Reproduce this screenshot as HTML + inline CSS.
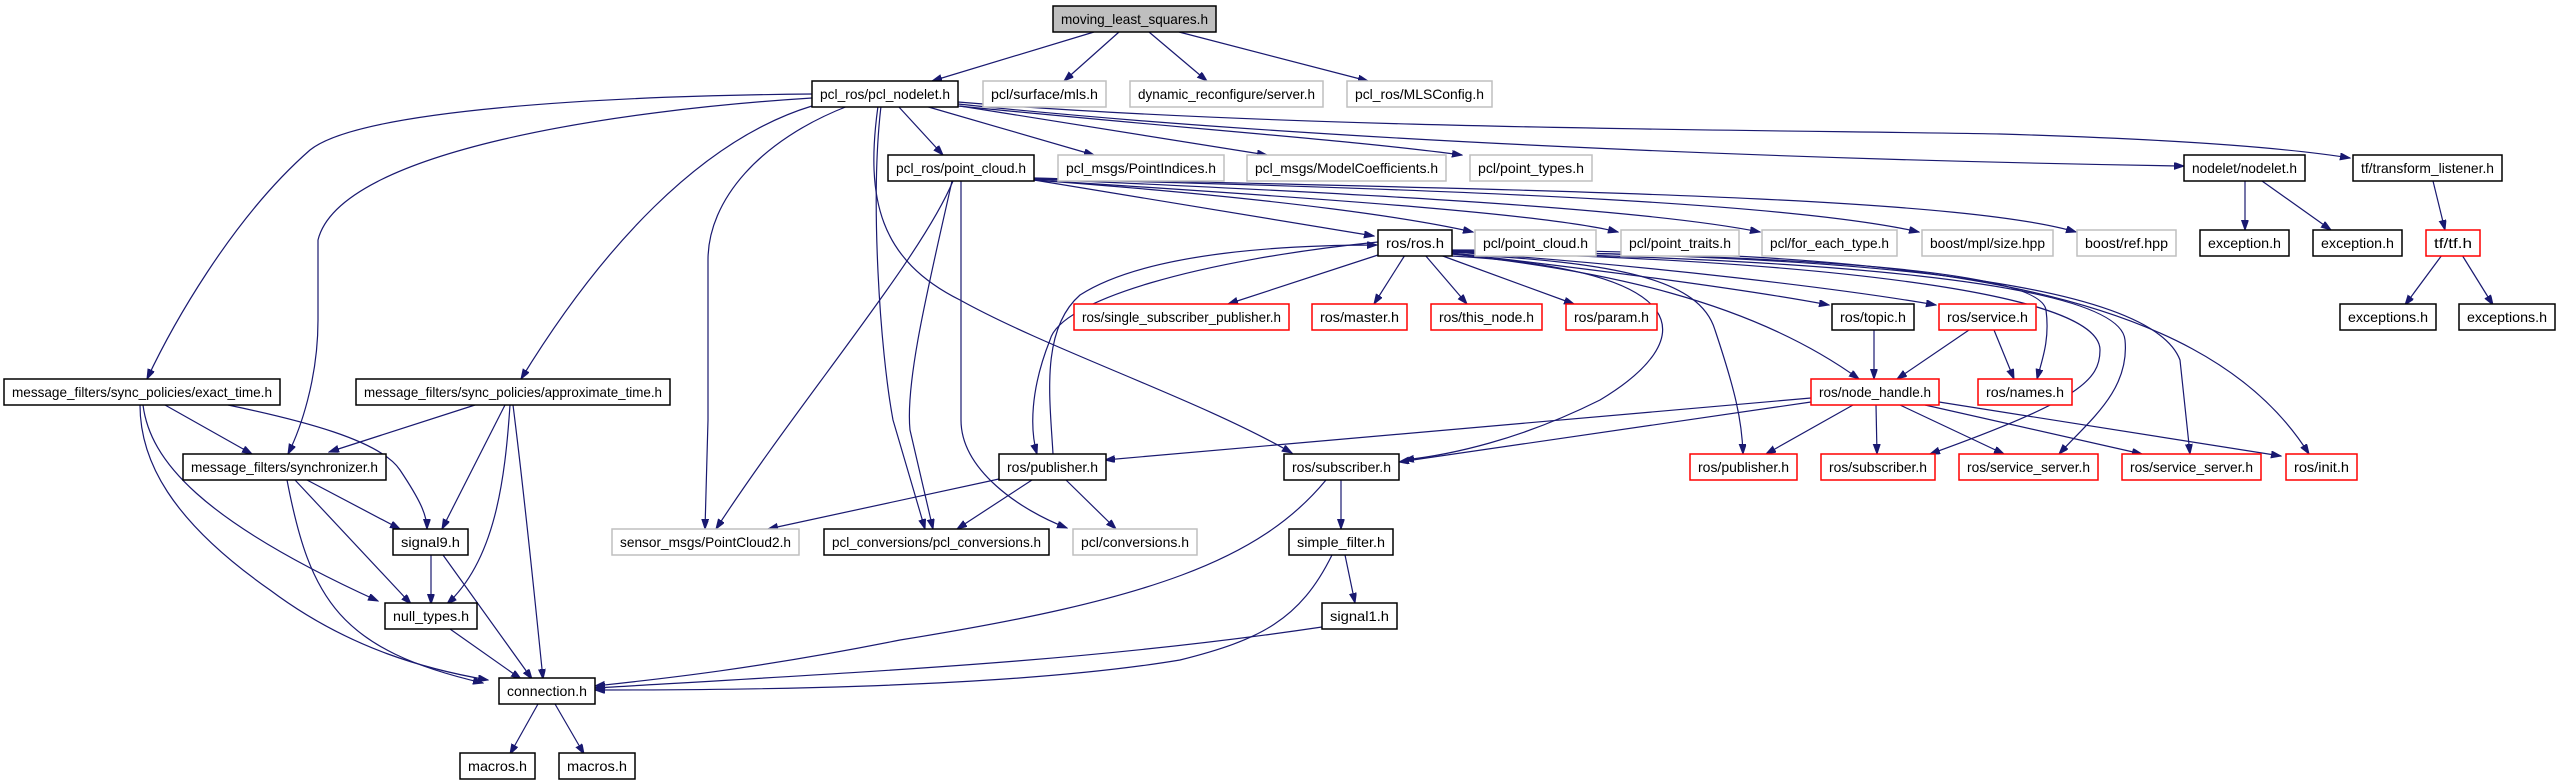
<!DOCTYPE html>
<html><head><meta charset="utf-8"><style>
html,body{margin:0;padding:0;background:#fff;}
svg{display:block;}
text{font-family:"Liberation Sans",sans-serif;font-size:14px;fill:#000;}
.b{fill:#fff;stroke:#000;stroke-width:1.5;}
.g{fill:#fff;stroke:#bfbfbf;stroke-width:1.5;}
.r{fill:#fff;stroke:#ff0000;stroke-width:1.5;}
.t{fill:#bfbfbf;stroke:#000;stroke-width:1.5;}
path.e{fill:none;stroke:#191970;stroke-width:1.2;marker-end:url(#a);}
</style></head><body>
<svg width="2565" height="784" viewBox="0 0 2565 784" xmlns="http://www.w3.org/2000/svg">
<defs><marker id="a" markerUnits="userSpaceOnUse" markerWidth="11" markerHeight="8" refX="10" refY="3.5" orient="auto"><path d="M0,0 L10,3.5 L0,7 z" fill="#191970" stroke="#191970"/></marker></defs>
<g>
<path class="e" d="M1094,32 L932,81"/>
<path class="e" d="M1119,32 L1064,81"/>
<path class="e" d="M1149,32 L1207,81"/>
<path class="e" d="M1179,32 L1368,81"/>
<path class="e" d="M812,94 C600,96 360,110 310,150 C230,220 170,330 147,379"/>
<path class="e" d="M812,98 C620,110 340,150 318,240 L318,320 C318,380 300,430 288,454"/>
<path class="e" d="M812,106 C700,140 600,250 521,379"/>
<path class="e" d="M848,106 C760,140 708,200 708,260 L708,420 L705,529"/>
<path class="e" d="M881,106 C870,200 880,350 893,420 L925,529"/>
<path class="e" d="M878,106 C865,200 880,260 960,300 C1050,350 1200,400 1292,453"/>
<path class="e" d="M898,106 L943,155"/>
<path class="e" d="M925,106 L1094,155"/>
<path class="e" d="M960,106 L1267,155"/>
<path class="e" d="M958,106 C1200,130 1350,140 1462,155"/>
<path class="e" d="M958,104 C1300,140 1800,160 2184,166"/>
<path class="e" d="M958,102 C1300,130 1800,130 2000,134 C2200,140 2300,150 2350,158"/>
<path class="e" d="M953,181 C920,260 800,400 716,529"/>
<path class="e" d="M952,181 C930,280 905,380 910,430 L933,529"/>
<path class="e" d="M961,181 L961,420 C961,470 1020,510 1067,528"/>
<path class="e" d="M1034,180 L1374,236"/>
<path class="e" d="M1034,180 C1300,200 1420,220 1473,232"/>
<path class="e" d="M1034,180 C1350,200 1550,215 1618,232"/>
<path class="e" d="M1034,179 C1400,195 1650,210 1760,232"/>
<path class="e" d="M1034,179 C1500,190 1800,205 1919,232"/>
<path class="e" d="M1034,178 C1500,190 1950,195 2076,232"/>
<path class="e" d="M1378,255 L1228,304"/>
<path class="e" d="M1405,255 L1374,304"/>
<path class="e" d="M1425,255 L1467,304"/>
<path class="e" d="M1440,255 L1574,304"/>
<path class="e" d="M1452,253 C1600,270 1750,290 1829,305"/>
<path class="e" d="M1452,252 C1650,265 1850,290 1936,305"/>
<path class="e" d="M1452,254 C1600,270 1750,300 1859,379"/>
<path class="e" d="M1452,251 C1800,255 2040,270 2046,310 C2050,340 2042,360 2037,379"/>
<path class="e" d="M1452,254 C1620,262 1700,280 1715,330 C1735,390 1742,420 1743,454"/>
<path class="e" d="M1452,252 C1800,260 2100,290 2100,350 C2100,380 2080,400 1930,454"/>
<path class="e" d="M1452,252 C1800,258 2120,280 2125,340 C2130,390 2090,420 2059,454"/>
<path class="e" d="M1452,251 C1850,255 2150,280 2180,360 L2190,454"/>
<path class="e" d="M1452,250 C1900,250 2200,280 2309,454"/>
<path class="e" d="M1378,242 C1200,260 1060,300 1050,340 C1030,390 1030,430 1037,454"/>
<path class="e" d="M1053,454 C1050,400 1040,330 1080,295 C1150,250 1300,245 1377,245"/>
<path class="e" d="M1452,256 C1700,270 1700,340 1600,400 C1520,440 1450,455 1404,460"/>
<path class="e" d="M1811,398 L1105,460"/>
<path class="e" d="M1811,402 L1399,462"/>
<path class="e" d="M1853,405 L1766,454"/>
<path class="e" d="M1876,405 L1877,454"/>
<path class="e" d="M1900,405 L2004,454"/>
<path class="e" d="M1925,405 L2142,454"/>
<path class="e" d="M1939,402 L2281,456"/>
<path class="e" d="M1874,330 L1874,379"/>
<path class="e" d="M1969,330 L1897,379"/>
<path class="e" d="M1994,330 L2014,379"/>
<path class="e" d="M2245,181 L2245,230"/>
<path class="e" d="M2262,181 L2331,230"/>
<path class="e" d="M2433,181 L2445,230"/>
<path class="e" d="M2442,255 L2405,305"/>
<path class="e" d="M2462,255 L2493,305"/>
<path class="e" d="M999,479 L768,529"/>
<path class="e" d="M1032,480 L957,529"/>
<path class="e" d="M1066,480 L1116,529"/>
<path class="e" d="M1326,480 C1260,560 1150,600 900,640 C750,670 650,680 595,686"/>
<path class="e" d="M1341,480 L1341,529"/>
<path class="e" d="M1345,555 L1355,603"/>
<path class="e" d="M1332,555 C1300,620 1260,640 1180,660 C1000,690 700,690 595,690"/>
<path class="e" d="M1322,627 C1100,660 900,670 595,688"/>
<path class="e" d="M165,405 L252,454"/>
<path class="e" d="M228,405 C300,420 380,440 400,470 C420,500 427,515 427,529"/>
<path class="e" d="M143,405 C150,460 200,520 378,601"/>
<path class="e" d="M140,405 C140,460 170,520 270,590 C350,650 430,670 488,680"/>
<path class="e" d="M475,405 L329,452"/>
<path class="e" d="M505,405 L442,529"/>
<path class="e" d="M510,405 C505,480 495,560 447,604"/>
<path class="e" d="M513,405 C525,500 535,600 543,679"/>
<path class="e" d="M307,480 L400,529"/>
<path class="e" d="M295,480 L411,604"/>
<path class="e" d="M287,480 C310,600 340,650 483,683"/>
<path class="e" d="M431,555 L431,604"/>
<path class="e" d="M443,555 L532,679"/>
<path class="e" d="M450,629 L521,679"/>
<path class="e" d="M538,704 L510,754"/>
<path class="e" d="M555,704 L584,754"/>
</g>
<g>
<rect class="t" x="1053" y="6" width="163" height="26"/><text x="1134.5" y="24" text-anchor="middle" textLength="147" lengthAdjust="spacingAndGlyphs">moving_least_squares.h</text>

<rect class="b" x="812" y="81" width="146" height="26"/><text x="885" y="99" text-anchor="middle" textLength="130" lengthAdjust="spacingAndGlyphs">pcl_ros/pcl_nodelet.h</text>
<rect class="g" x="983" y="81" width="123" height="26"/><text x="1044.5" y="99" text-anchor="middle" textLength="107" lengthAdjust="spacingAndGlyphs">pcl/surface/mls.h</text>
<rect class="g" x="1130" y="81" width="193" height="26"/><text x="1226.5" y="99" text-anchor="middle" textLength="177" lengthAdjust="spacingAndGlyphs">dynamic_reconfigure/server.h</text>
<rect class="g" x="1347" y="81" width="145" height="26"/><text x="1419.5" y="99" text-anchor="middle" textLength="129" lengthAdjust="spacingAndGlyphs">pcl_ros/MLSConfig.h</text>

<rect class="b" x="888" y="155" width="146" height="26"/><text x="961" y="173" text-anchor="middle" textLength="130" lengthAdjust="spacingAndGlyphs">pcl_ros/point_cloud.h</text>
<rect class="g" x="1058" y="155" width="166" height="26"/><text x="1141" y="173" text-anchor="middle" textLength="150" lengthAdjust="spacingAndGlyphs">pcl_msgs/PointIndices.h</text>
<rect class="g" x="1247" y="155" width="199" height="26"/><text x="1346.5" y="173" text-anchor="middle" textLength="183" lengthAdjust="spacingAndGlyphs">pcl_msgs/ModelCoefficients.h</text>
<rect class="g" x="1470" y="155" width="122" height="26"/><text x="1531" y="173" text-anchor="middle" textLength="106" lengthAdjust="spacingAndGlyphs">pcl/point_types.h</text>
<rect class="b" x="2184" y="155" width="121" height="26"/><text x="2244.5" y="173" text-anchor="middle" textLength="105" lengthAdjust="spacingAndGlyphs">nodelet/nodelet.h</text>
<rect class="b" x="2353" y="155" width="149" height="26"/><text x="2427.5" y="173" text-anchor="middle" textLength="133" lengthAdjust="spacingAndGlyphs">tf/transform_listener.h</text>

<rect class="b" x="1378" y="230" width="74" height="26"/><text x="1415" y="248" text-anchor="middle" textLength="58" lengthAdjust="spacingAndGlyphs">ros/ros.h</text>
<rect class="g" x="1475" y="230" width="121" height="26"/><text x="1535.5" y="248" text-anchor="middle" textLength="105" lengthAdjust="spacingAndGlyphs">pcl/point_cloud.h</text>
<rect class="g" x="1621" y="230" width="118" height="26"/><text x="1680" y="248" text-anchor="middle" textLength="102" lengthAdjust="spacingAndGlyphs">pcl/point_traits.h</text>
<rect class="g" x="1762" y="230" width="135" height="26"/><text x="1829.5" y="248" text-anchor="middle" textLength="119" lengthAdjust="spacingAndGlyphs">pcl/for_each_type.h</text>
<rect class="g" x="1922" y="230" width="131" height="26"/><text x="1987.5" y="248" text-anchor="middle" textLength="115" lengthAdjust="spacingAndGlyphs">boost/mpl/size.hpp</text>
<rect class="g" x="2077" y="230" width="99" height="26"/><text x="2126.5" y="248" text-anchor="middle" textLength="83" lengthAdjust="spacingAndGlyphs">boost/ref.hpp</text>
<rect class="b" x="2200" y="230" width="89" height="26"/><text x="2244.5" y="248" text-anchor="middle" textLength="73" lengthAdjust="spacingAndGlyphs">exception.h</text>
<rect class="b" x="2313" y="230" width="89" height="26"/><text x="2357.5" y="248" text-anchor="middle" textLength="73" lengthAdjust="spacingAndGlyphs">exception.h</text>
<rect class="r" x="2426" y="230" width="54" height="26"/><text x="2453" y="248" text-anchor="middle" textLength="38" lengthAdjust="spacingAndGlyphs">tf/tf.h</text>

<rect class="r" x="1074" y="304" width="215" height="26"/><text x="1181.5" y="322" text-anchor="middle" textLength="199" lengthAdjust="spacingAndGlyphs">ros/single_subscriber_publisher.h</text>
<rect class="r" x="1312" y="304" width="95" height="26"/><text x="1359.5" y="322" text-anchor="middle" textLength="79" lengthAdjust="spacingAndGlyphs">ros/master.h</text>
<rect class="r" x="1431" y="304" width="111" height="26"/><text x="1486.5" y="322" text-anchor="middle" textLength="95" lengthAdjust="spacingAndGlyphs">ros/this_node.h</text>
<rect class="r" x="1566" y="304" width="91" height="26"/><text x="1611.5" y="322" text-anchor="middle" textLength="75" lengthAdjust="spacingAndGlyphs">ros/param.h</text>
<rect class="b" x="1832" y="304" width="82" height="26"/><text x="1873" y="322" text-anchor="middle" textLength="66" lengthAdjust="spacingAndGlyphs">ros/topic.h</text>
<rect class="r" x="1939" y="304" width="97" height="26"/><text x="1987.5" y="322" text-anchor="middle" textLength="81" lengthAdjust="spacingAndGlyphs">ros/service.h</text>
<rect class="b" x="2340" y="304" width="96" height="26"/><text x="2388" y="322" text-anchor="middle" textLength="80" lengthAdjust="spacingAndGlyphs">exceptions.h</text>
<rect class="b" x="2459" y="304" width="96" height="26"/><text x="2507" y="322" text-anchor="middle" textLength="80" lengthAdjust="spacingAndGlyphs">exceptions.h</text>

<rect class="b" x="4" y="379" width="276" height="26"/><text x="142" y="397" text-anchor="middle" textLength="260" lengthAdjust="spacingAndGlyphs">message_filters/sync_policies/exact_time.h</text>
<rect class="b" x="356" y="379" width="314" height="26"/><text x="513" y="397" text-anchor="middle" textLength="298" lengthAdjust="spacingAndGlyphs">message_filters/sync_policies/approximate_time.h</text>
<rect class="r" x="1811" y="379" width="128" height="26"/><text x="1875" y="397" text-anchor="middle" textLength="112" lengthAdjust="spacingAndGlyphs">ros/node_handle.h</text>
<rect class="r" x="1978" y="379" width="94" height="26"/><text x="2025" y="397" text-anchor="middle" textLength="78" lengthAdjust="spacingAndGlyphs">ros/names.h</text>

<rect class="b" x="183" y="454" width="203" height="26"/><text x="284.5" y="472" text-anchor="middle" textLength="187" lengthAdjust="spacingAndGlyphs">message_filters/synchronizer.h</text>
<rect class="b" x="999" y="454" width="107" height="26"/><text x="1052.5" y="472" text-anchor="middle" textLength="91" lengthAdjust="spacingAndGlyphs">ros/publisher.h</text>
<rect class="b" x="1284" y="454" width="115" height="26"/><text x="1341.5" y="472" text-anchor="middle" textLength="99" lengthAdjust="spacingAndGlyphs">ros/subscriber.h</text>
<rect class="r" x="1690" y="454" width="107" height="26"/><text x="1743.5" y="472" text-anchor="middle" textLength="91" lengthAdjust="spacingAndGlyphs">ros/publisher.h</text>
<rect class="r" x="1821" y="454" width="114" height="26"/><text x="1878" y="472" text-anchor="middle" textLength="98" lengthAdjust="spacingAndGlyphs">ros/subscriber.h</text>
<rect class="r" x="1959" y="454" width="139" height="26"/><text x="2028.5" y="472" text-anchor="middle" textLength="123" lengthAdjust="spacingAndGlyphs">ros/service_server.h</text>
<rect class="r" x="2122" y="454" width="139" height="26"/><text x="2191.5" y="472" text-anchor="middle" textLength="123" lengthAdjust="spacingAndGlyphs">ros/service_server.h</text>
<rect class="r" x="2286" y="454" width="71" height="26"/><text x="2321.5" y="472" text-anchor="middle" textLength="55" lengthAdjust="spacingAndGlyphs">ros/init.h</text>

<rect class="b" x="393" y="529" width="75" height="26"/><text x="430.5" y="547" text-anchor="middle" textLength="59" lengthAdjust="spacingAndGlyphs">signal9.h</text>
<rect class="g" x="612" y="529" width="187" height="26"/><text x="705.5" y="547" text-anchor="middle" textLength="171" lengthAdjust="spacingAndGlyphs">sensor_msgs/PointCloud2.h</text>
<rect class="b" x="824" y="529" width="225" height="26"/><text x="936.5" y="547" text-anchor="middle" textLength="209" lengthAdjust="spacingAndGlyphs">pcl_conversions/pcl_conversions.h</text>
<rect class="g" x="1073" y="529" width="124" height="26"/><text x="1135" y="547" text-anchor="middle" textLength="108" lengthAdjust="spacingAndGlyphs">pcl/conversions.h</text>
<rect class="b" x="1289" y="529" width="104" height="26"/><text x="1341" y="547" text-anchor="middle" textLength="88" lengthAdjust="spacingAndGlyphs">simple_filter.h</text>

<rect class="b" x="385" y="603" width="92" height="26"/><text x="431" y="621" text-anchor="middle" textLength="76" lengthAdjust="spacingAndGlyphs">null_types.h</text>
<rect class="b" x="1322" y="603" width="75" height="26"/><text x="1359.5" y="621" text-anchor="middle" textLength="59" lengthAdjust="spacingAndGlyphs">signal1.h</text>

<rect class="b" x="499" y="678" width="96" height="26"/><text x="547" y="696" text-anchor="middle" textLength="80" lengthAdjust="spacingAndGlyphs">connection.h</text>

<rect class="b" x="460" y="753" width="75" height="26"/><text x="497.5" y="771" text-anchor="middle" textLength="59" lengthAdjust="spacingAndGlyphs">macros.h</text>
<rect class="b" x="559" y="753" width="76" height="26"/><text x="597" y="771" text-anchor="middle" textLength="60" lengthAdjust="spacingAndGlyphs">macros.h</text>
</g>
</svg>
</body></html>
